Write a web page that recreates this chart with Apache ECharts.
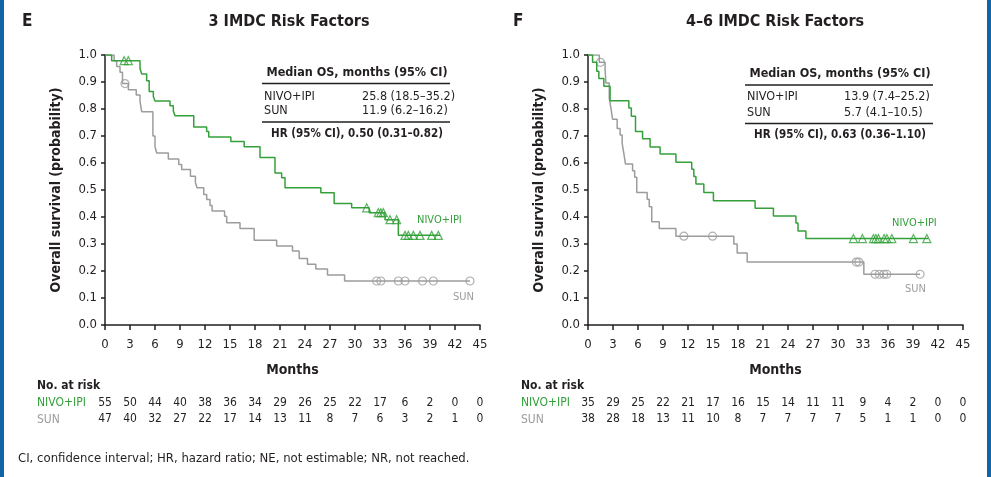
<!DOCTYPE html>
<html>
<head>
<meta charset="utf-8">
<script src="https://cdn.jsdelivr.net/npm/echarts@6/dist/echarts.min.js"></script>
<style>
  html, body { margin: 0; padding: 0; background: #fff; }
  #chart { width: 991px; height: 477px; }
</style>
</head>
<body>
<div id="chart"></div>
<script>
// Kaplan-Meier steps: [month, survival]
const leftNivo = [[0,1],[0.8,0.979],[4.2,0.95],[4.4,0.93],[5.0,0.905],[5.3,0.865],[5.8,0.846],[6.0,0.83],
  [7.8,0.812],[8.2,0.793],[8.4,0.775],[10.65,0.733],[12.2,0.717],[12.45,0.696],[15.1,0.68],[16.7,0.66],
  [18.6,0.62],[20.4,0.563],[21.2,0.545],[21.6,0.508],[25.9,0.49],[27.5,0.45],[29.6,0.434],[31.7,0.416],
  [33.6,0.39],[35.2,0.332],[40.2,0.332]]
const leftSun = [[0,1],[1.1,0.979],[1.4,0.957],[1.8,0.936],[2.1,0.894],[2.8,0.871],[3.75,0.852],[4.2,0.828],
  [4.4,0.79],[5.75,0.70],[6.0,0.66],[6.2,0.637],[7.6,0.615],[8.85,0.594],[9.2,0.576],[10.25,0.551],
  [10.85,0.527],[11.05,0.508],[11.85,0.483],[12.2,0.465],[12.6,0.443],[12.85,0.422],[14.35,0.403],
  [14.6,0.379],[16.2,0.357],[17.9,0.314],[20.6,0.293],[22.5,0.274],[23.3,0.246],[24.3,0.225],
  [25.3,0.207],[26.7,0.185],[28.75,0.163],[43.8,0.163]]
const rightNivo = [[0,1],[0.55,0.973],[1.05,0.94],[1.3,0.913],[1.9,0.884],[2.65,0.831],[4.9,0.804],
  [5.2,0.773],[5.7,0.717],[6.55,0.69],[7.45,0.659],[8.65,0.633],[10.55,0.603],[12.45,0.577],[12.7,0.55],
  [12.95,0.522],[13.9,0.491],[15.05,0.46],[20.05,0.432],[22.25,0.404],[24.95,0.378],[25.2,0.348],
  [26.15,0.32],[40.85,0.32]]
const rightSun = [[0,1],[1.35,0.973],[2.05,0.946],[2.15,0.896],[2.55,0.84],[2.75,0.803],[2.95,0.762],
  [3.5,0.728],[3.85,0.704],[4.1,0.673],[4.3,0.636],[4.5,0.596],[5.35,0.571],[5.6,0.547],[5.85,0.491],
  [7.1,0.466],[7.35,0.438],[7.65,0.382],[8.55,0.357],[10.55,0.329],[17.5,0.3],[17.9,0.267],[19.1,0.233],
  [33.1,0.188],[39.85,0.188]]

// censoring times (months)
const leftNivoCens = [2.3, 2.8, 31.4, 32.8, 33.1, 33.4, 34.2, 35.0, 36.0, 36.4, 37.0, 37.8, 39.2, 40.0]
const leftSunCens = [2.4, 32.6, 33.1, 35.2, 36.0, 38.1, 39.4, 43.8]
const rightNivoCens = [31.85, 32.93, 34.25, 34.54, 34.85, 35.53, 35.86, 36.46, 39.05, 40.66]
const rightSunCens = [1.5, 11.5, 14.95, 32.2, 32.5, 34.45, 34.95, 35.5, 35.85, 39.85]

// number at risk, every 3 months from 0 to 45
const leftNivoRisk = [55, 50, 44, 40, 38, 36, 34, 29, 26, 25, 22, 17, 6, 2, 0, 0]
const leftSunRisk = [47, 40, 32, 27, 22, 17, 14, 13, 11, 8, 7, 6, 3, 2, 1, 0]
const rightNivoRisk = [35, 29, 25, 22, 21, 17, 16, 15, 14, 11, 11, 9, 4, 2, 0, 0]
const rightSunRisk = [38, 28, 18, 13, 11, 10, 8, 7, 7, 7, 7, 5, 1, 1, 0, 0]

const GREEN = '#33a03a'
const GRAY = '#9c9c9c'
const INK = '#231f20'
const FONT = "'Liberation Sans Narrow', 'Arial Narrow', 'DejaVu Sans Condensed', sans-serif"

// survival value at time t (step lookup)
function survAt(curve, t) {
  let s = curve[0][1]
  for (const p of curve) { if (p[0] <= t) s = p[1] }
  return s
}

function mainX(grid) {
  return {
    gridIndex: grid, type: 'value', min: 0, max: 45, interval: 3, offset: 3,
    name: 'Months', nameLocation: 'middle', nameGap: 35,
    nameTextStyle: { fontSize: 14, fontWeight: 'bold', color: INK, fontFamily: FONT },
    axisLine: { lineStyle: { color: INK, width: 1.5 } },
    axisTick: { length: 5, lineStyle: { color: INK, width: 1.5 } },
    axisLabel: { color: INK, fontSize: 13, margin: 10, fontFamily: FONT },
    splitLine: { show: false }
  }
}
// extra bottom axis that prints the number at risk under each tick
function riskX(grid, risk, offset) {
  return {
    gridIndex: grid, type: 'value', min: 0, max: 45, interval: 3, position: 'bottom', offset: offset,
    axisLine: { show: false }, axisTick: { show: false }, splitLine: { show: false },
    axisLabel: { color: INK, fontSize: 12, margin: 4, fontFamily: FONT,
      formatter: v => String(risk[Math.round(v / 3)]) }
  }
}
function yAx(grid) {
  return {
    gridIndex: grid, type: 'value', min: 0, max: 1, interval: 0.1, offset: 2,
    name: 'Overall survival (probability)', nameLocation: 'middle', nameGap: 40,
    nameTextStyle: { fontSize: 14, fontWeight: 'bold', color: INK, fontFamily: FONT },
    axisLine: { show: true, lineStyle: { color: INK, width: 1.5 } },
    axisTick: { show: true, length: 4, lineStyle: { color: INK, width: 1.5 } },
    axisLabel: { color: INK, fontSize: 13, margin: 6, fontFamily: FONT, formatter: v => v.toFixed(1) },
    splitLine: { show: false }
  }
}
function curve(name, data, color, xi) {
  return { name: name, type: 'line', step: 'end', data: data, xAxisIndex: xi, yAxisIndex: xi / 3 | 0,
    showSymbol: false, lineStyle: { color: color, width: 1.5 }, silent: true }
}
function cens(curveData, times, color, symbol, size, xi) {
  return { type: 'scatter', xAxisIndex: xi, yAxisIndex: xi / 3 | 0, symbol: symbol, symbolSize: size,
    data: times.map(t => [t, survAt(curveData, t)]),
    itemStyle: { color: 'transparent', borderColor: color, borderWidth: 1.2 }, silent: true }
}
function txt(text, x, y, opts) {
  return { type: 'text', x: x, y: y, silent: true,
    style: Object.assign({ text: text, fill: INK, fontSize: 13, fontFamily: FONT, verticalAlign: 'middle' }, opts || {}) }
}
function hline(x1, x2, y) {
  return { type: 'line', silent: true, shape: { x1: x1, y1: y, x2: x2, y2: y }, style: { stroke: INK, lineWidth: 1.5 } }
}

const chart = echarts.init(document.getElementById('chart'))
chart.setOption({
  animation: false,
  textStyle: { fontFamily: FONT },
  graphic: [
    { type: 'rect', silent: true, shape: { x: 0, y: 0, width: 4, height: 477 }, style: { fill: '#1464a8' } },
    { type: 'rect', silent: true, shape: { x: 987, y: 0, width: 4, height: 477 }, style: { fill: '#1464a8' } },
    txt('E', 22, 22, { fontSize: 17, fontWeight: 'bold' }),
    txt('F', 513, 22, { fontSize: 17, fontWeight: 'bold' }),
    txt('3 IMDC Risk Factors', 289, 22, { fontSize: 16, fontWeight: 'bold', align: 'center' }),
    txt('4–6 IMDC Risk Factors', 775, 22, { fontSize: 16, fontWeight: 'bold', align: 'center' }),
    // median OS table, left
    txt('Median OS, months (95% CI)', 357, 73, { fontWeight: 'bold', align: 'center', fontSize: 12.5 }),
    hline(262, 450, 83.5),
    txt('NIVO+IPI', 264, 97, { fontSize: 12.5 }),
    txt('25.8 (18.5–35.2)', 362, 97, { fontSize: 12.5 }),
    txt('SUN', 264, 111, { fontSize: 12.5 }),
    txt('11.9 (6.2–16.2)', 362, 111, { fontSize: 12.5 }),
    hline(262, 450, 122),
    txt('HR (95% CI), 0.50 (0.31–0.82)', 357, 134, { fontWeight: 'bold', align: 'center', fontSize: 11.5 }),
    // median OS table, right
    txt('Median OS, months (95% CI)', 840, 74, { fontWeight: 'bold', align: 'center', fontSize: 12.5 }),
    hline(745, 933, 85),
    txt('NIVO+IPI', 747, 97, { fontSize: 12.5 }),
    txt('13.9 (7.4–25.2)', 844, 97, { fontSize: 12.5 }),
    txt('SUN', 747, 112.5, { fontSize: 12.5 }),
    txt('5.7 (4.1–10.5)', 844, 112.5, { fontSize: 12.5 }),
    hline(745, 933, 123.5),
    txt('HR (95% CI), 0.63 (0.36–1.10)', 840, 135, { fontWeight: 'bold', align: 'center', fontSize: 11.5 }),
    // curve labels
    txt('NIVO+IPI', 417, 220, { fill: GREEN, fontSize: 11 }),
    txt('SUN', 453, 297, { fill: GRAY, fontSize: 11 }),
    txt('NIVO+IPI', 892, 223, { fill: GREEN, fontSize: 11 }),
    txt('SUN', 905, 289, { fill: GRAY, fontSize: 11 }),
    // at-risk row labels
    txt('No. at risk', 37, 386, { fontWeight: 'bold', fontSize: 12 }),
    txt('NIVO+IPI', 37, 403, { fill: GREEN, fontSize: 12 }),
    txt('SUN', 37, 419.5, { fill: GRAY, fontSize: 12 }),
    txt('No. at risk', 521, 386, { fontWeight: 'bold', fontSize: 12 }),
    txt('NIVO+IPI', 521, 403, { fill: GREEN, fontSize: 12 }),
    txt('SUN', 521, 419.5, { fill: GRAY, fontSize: 12 }),
    txt('CI, confidence interval; HR, hazard ratio; NE, not estimable; NR, not reached.', 18, 459, { fontSize: 13 })
  ],
  grid: [
    { left: 105, width: 375, top: 55, height: 270, outerBoundsMode: 'none' },
    { left: 588, width: 375, top: 55, height: 270, outerBoundsMode: 'none' }
  ],
  xAxis: [
    mainX(0), riskX(0, leftNivoRisk, 68), riskX(0, leftSunRisk, 84),
    mainX(1), riskX(1, rightNivoRisk, 68), riskX(1, rightSunRisk, 84)
  ],
  yAxis: [yAx(0), yAx(1)],
  series: [
    curve('SUN', leftSun, GRAY, 0),
    curve('NIVO+IPI', leftNivo, GREEN, 0),
    cens(leftSun, leftSunCens, GRAY, 'circle', 8, 0),
    cens(leftNivo, leftNivoCens, GREEN, 'triangle', 8, 0),
    curve('SUN', rightSun, GRAY, 3),
    curve('NIVO+IPI', rightNivo, GREEN, 3),
    cens(rightSun, rightSunCens, GRAY, 'circle', 8, 3),
    cens(rightNivo, rightNivoCens, GREEN, 'triangle', 8, 3)
  ]
})
</script>
</body>
</html>
